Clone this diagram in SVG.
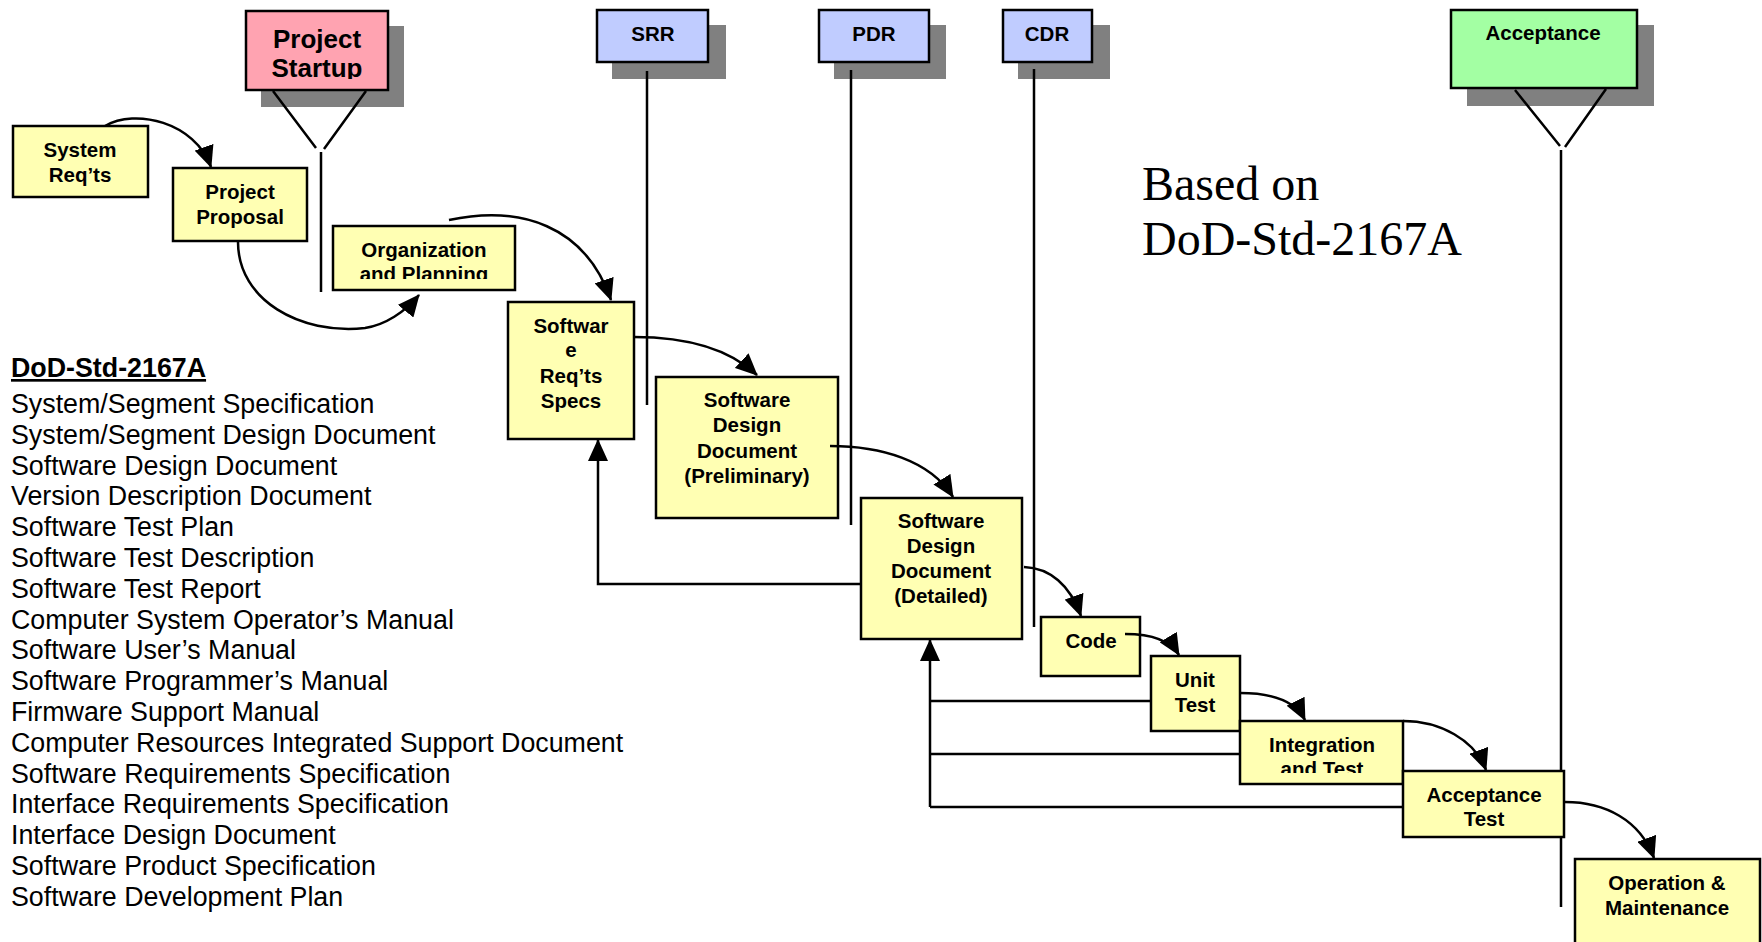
<svg xmlns="http://www.w3.org/2000/svg" width="1762" height="942" viewBox="0 0 1762 942">
  <style>
    .box { fill: #FFFFB3; stroke: #000; stroke-width: 2.5; }
    .rev { stroke: #000; stroke-width: 2.5; }
    .shadow { fill: #808080; }
    .ln { fill: none; stroke: #000; stroke-width: 2.5; }
    .conn { fill: none; stroke: #000; stroke-width: 2.5; marker-end: url(#arrow); }
    .t { font-family: "Liberation Sans", Arial, sans-serif; font-weight: bold; font-size: 20.5px; text-anchor: middle; fill: #000; }
    .big { font-size: 26px; }
    .doc { font-family: "Liberation Sans", Arial, sans-serif; font-size: 26.8px; fill: #000; }
    .serif { font-family: "Liberation Serif", "Times New Roman", serif; font-size: 48px; fill: #000; }
  </style>
  <defs>
    <marker id="arrow" viewBox="0 0 22 20" refX="21" refY="10" markerWidth="22" markerHeight="20" markerUnits="userSpaceOnUse" orient="auto">
      <path d="M0,0 L22,10 L0,20 z" fill="#000"/>
    </marker>
    <clipPath id="clipStartup"><rect x="246" y="11" width="142" height="68"/></clipPath>
    <clipPath id="clipOrg"><rect x="333" y="226" width="182" height="53"/></clipPath>
    <clipPath id="clipInt"><rect x="1240" y="721" width="163" height="52"/></clipPath>
  </defs>

  <!-- review milestones -->
  <g id="project-startup">
    <rect class="shadow" x="261" y="26" width="143" height="81"/>
    <rect class="rev" fill="#FFA3B1" x="246" y="11" width="142" height="79"/>
    <g clip-path="url(#clipStartup)">
      <text class="t big" x="317" y="48">Project</text>
      <text class="t big" x="317" y="77">Startup</text>
    </g>
    <path class="ln" d="M273,91 L316,148 M366,91 L324,149 M321,152 L321,292"/>
  </g>
  <g id="srr">
    <rect class="shadow" x="612" y="25" width="114" height="54"/>
    <rect class="rev" fill="#C0CCFF" x="597" y="10" width="111" height="52"/>
    <text class="t" x="653" y="41">SRR</text>
    <path class="ln" d="M647,71 L647,405"/>
  </g>
  <g id="pdr">
    <rect class="shadow" x="834" y="25" width="112" height="54"/>
    <rect class="rev" fill="#C0CCFF" x="819" y="10" width="110" height="52"/>
    <text class="t" x="874" y="41">PDR</text>
    <path class="ln" d="M851,70 L851,525"/>
  </g>
  <g id="cdr">
    <rect class="shadow" x="1018" y="25" width="92" height="54"/>
    <rect class="rev" fill="#C0CCFF" x="1003" y="10" width="89" height="52"/>
    <text class="t" x="1047" y="41">CDR</text>
    <path class="ln" d="M1034,69 L1034,627"/>
  </g>
  <g id="acceptance">
    <rect class="shadow" x="1467" y="25" width="187" height="81"/>
    <rect class="rev" fill="#A3FFA3" x="1451" y="10" width="186" height="78"/>
    <text class="t" x="1543" y="40">Acceptance</text>
    <path class="ln" d="M1515,90 L1560,146 M1606,89 L1565,147 M1561,150 L1561,907"/>
  </g>

  <!-- process steps -->
  <g id="system-reqts">
    <rect class="box" x="13" y="126" width="135" height="71"/>
    <text class="t" x="80" y="157">System</text>
    <text class="t" x="80" y="182">Req’ts</text>
  </g>
  <g id="project-proposal">
    <rect class="box" x="173" y="168" width="134" height="73"/>
    <text class="t" x="240" y="199">Project</text>
    <text class="t" x="240" y="224">Proposal</text>
  </g>
  <g id="org-planning">
    <rect class="box" x="333" y="226" width="182" height="64"/>
    <g clip-path="url(#clipOrg)">
      <text class="t" x="424" y="257">Organization</text>
      <text class="t" x="424" y="281">and Planning</text>
    </g>
  </g>
  <g id="sw-reqts-specs">
    <rect class="box" x="508" y="302" width="126" height="137"/>
    <text class="t" x="571" y="333">Softwar</text>
    <text class="t" x="571" y="357">e</text>
    <text class="t" x="571" y="383">Req’ts</text>
    <text class="t" x="571" y="408">Specs</text>
  </g>
  <g id="sdd-preliminary">
    <rect class="box" x="656" y="377" width="182" height="141"/>
    <text class="t" x="747" y="407">Software</text>
    <text class="t" x="747" y="432">Design</text>
    <text class="t" x="747" y="458">Document</text>
    <text class="t" x="747" y="483">(Preliminary)</text>
  </g>
  <g id="sdd-detailed">
    <rect class="box" x="861" y="498" width="161" height="141"/>
    <text class="t" x="941" y="528">Software</text>
    <text class="t" x="941" y="553">Design</text>
    <text class="t" x="941" y="578">Document</text>
    <text class="t" x="941" y="603">(Detailed)</text>
  </g>
  <g id="code">
    <rect class="box" x="1041" y="617" width="99" height="59"/>
    <text class="t" x="1091" y="648">Code</text>
  </g>
  <g id="unit-test">
    <rect class="box" x="1151" y="656" width="89" height="75"/>
    <text class="t" x="1195" y="687">Unit</text>
    <text class="t" x="1195" y="712">Test</text>
  </g>
  <g id="integration-test">
    <rect class="box" x="1240" y="721" width="163" height="63"/>
    <g clip-path="url(#clipInt)">
      <text class="t" x="1322" y="752">Integration</text>
      <text class="t" x="1322" y="776">and Test</text>
    </g>
  </g>
  <g id="acceptance-test">
    <rect class="box" x="1403" y="771" width="161" height="66"/>
    <text class="t" x="1484" y="802">Acceptance</text>
    <text class="t" x="1484" y="826">Test</text>
  </g>
  <g id="operation-maintenance">
    <rect class="box" x="1575" y="859" width="185" height="90"/>
    <text class="t" x="1667" y="890">Operation &amp;</text>
    <text class="t" x="1667" y="915">Maintenance</text>
  </g>

  <!-- flow and feedback connectors -->
  <g id="connectors">
    <path class="conn" d="M105,126 C135,108 195,122 211,167"/>
    <path class="conn" d="M238,242 C238,300 300,335 365,328 C385,325 405,312 419,295"/>
    <path class="conn" d="M449,220 C520,205 585,225 611,300"/>
    <path class="conn" d="M634,337 C680,337 725,345 757,375"/>
    <path class="conn" d="M830,446 C880,446 930,460 953,497"/>
    <path class="conn" d="M1024,567 C1050,568 1070,585 1081,616"/>
    <path class="conn" d="M1125,634 C1150,634 1170,640 1179,655"/>
    <path class="conn" d="M1240,693 C1270,693 1295,700 1305,720"/>
    <path class="conn" d="M1403,721 C1440,721 1475,740 1486,770"/>
    <path class="conn" d="M1565,802 C1605,802 1640,820 1654,858"/>
    <path class="conn" d="M861,584 L598,584 L598,440"/>
    <path class="conn" d="M930,807 L930,640"/>
    <path class="ln" d="M930,701 L1151,701 M930,754 L1240,754 M930,807 L1403,807"/>
  </g>

  <!-- caption -->
  <text class="serif" x="1142" y="200">Based on</text>
  <text class="serif" x="1142" y="255">DoD-Std-2167A</text>

  <!-- document list -->
  <g id="doc-list">
    <text class="doc" x="11" y="377" font-weight="bold" text-decoration="underline">DoD-Std-2167A</text>
    <text class="doc" x="11" y="413">System/Segment Specification</text>
    <text class="doc" x="11" y="444">System/Segment Design Document</text>
    <text class="doc" x="11" y="475">Software Design Document</text>
    <text class="doc" x="11" y="505">Version Description Document</text>
    <text class="doc" x="11" y="536">Software Test Plan</text>
    <text class="doc" x="11" y="567">Software Test Description</text>
    <text class="doc" x="11" y="598">Software Test Report</text>
    <text class="doc" x="11" y="629">Computer System Operator’s Manual</text>
    <text class="doc" x="11" y="659">Software User’s Manual</text>
    <text class="doc" x="11" y="690">Software Programmer’s Manual</text>
    <text class="doc" x="11" y="721">Firmware Support Manual</text>
    <text class="doc" x="11" y="752">Computer Resources Integrated Support Document</text>
    <text class="doc" x="11" y="783">Software Requirements Specification</text>
    <text class="doc" x="11" y="813">Interface Requirements Specification</text>
    <text class="doc" x="11" y="844">Interface Design Document</text>
    <text class="doc" x="11" y="875">Software Product Specification</text>
    <text class="doc" x="11" y="906">Software Development Plan</text>
  </g>
</svg>
